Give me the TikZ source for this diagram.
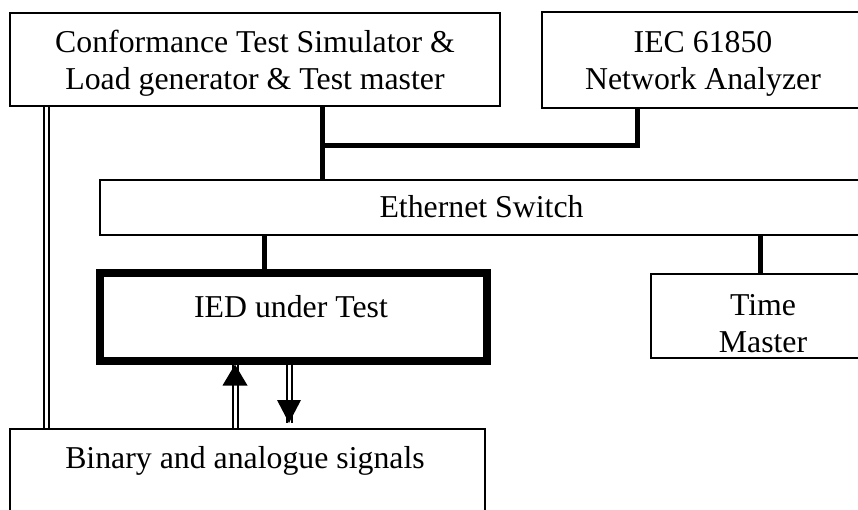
\documentclass[tikz,border=0pt]{standalone}
\usepackage{fontspec}
\setmainfont{Liberation Serif}
\begin{document}
\begin{tikzpicture}[x=1pt,y=-1pt,
  box/.style={draw, line width=2pt, inner sep=0pt},
  lbl/.style={anchor=base, inner sep=0pt, font=\fontsize{31.8}{37}\selectfont},
  bus/.style={line width=5pt},
  dbl/.style={double, line width=2pt, double distance=3pt}]
\useasboundingbox (0,0) rectangle (858,510);
\clip (0,0) rectangle (858,510);
% boxes
\node[box, minimum width=490pt, minimum height=93pt] (conf) at (255,59.5) {};
\node[box, minimum width=324pt, minimum height=96pt] (iec) at (704,60) {};
\node[box, minimum width=860pt, minimum height=55pt] (eth) at (530,207.5) {};
\node[box, line width=8pt, minimum width=387.5pt, minimum height=87.5pt] (ied) at (293.25,316.75) {};
\node[box, minimum width=226pt, minimum height=84pt] (time) at (764,316) {};
\node[box, minimum width=475pt, minimum height=131pt] (bin) at (247.5,494.5) {};
% texts
\node[lbl] (conf1) at (255,53) {Conformance Test Simulator \&};
\node[lbl] (conf2) at (255,90) {Load generator \& Test master};
\node[lbl] (iec1) at (703,53) {IEC 61850};
\node[lbl] (iec2) at (703,90) {Network Analyzer};
\node[lbl] (eth1) at (481.5,218) {Ethernet Switch};
\node[lbl] (ied1) at (291,317) {IED under Test};
\node[lbl] (time1) at (763,315) {Time};
\node[lbl] (time2) at (763,352) {Master};
\node[lbl] (bin1) at (245,468) {Binary and analogue signals};
% connector x positions
\coordinate (j) at (322,146);
\coordinate (iecx) at (637,0);
\coordinate (iedx) at (264,0);
\coordinate (timex) at (760,0);
\coordinate (dx) at (46,0);
\coordinate (ux) at (235,0);
\coordinate (vx) at (289,0);
% buses
\draw[bus] (conf.south -| j) -- (eth.north -| j);
\draw[bus] (iec.south -| iecx) |- (j);
\draw[bus] (eth.south -| iedx) -- (ied.north -| iedx);
\draw[bus] (eth.south -| timex) -- (time.north -| timex);
% double line
\draw[dbl] (conf.south -| dx) -- (bin.north -| dx);
% up arrow
\draw[dbl] (bin.north -| ux) -- (ied.south -| ux);
\fill (ied.south -| ux) -- ++(-12.5,21) -- ++(25,0) -- cycle;
% down arrow
\draw[dbl, shorten >=5pt] (ied.south -| vx) -- (bin.north -| vx);
\fill ([yshift=5pt]bin.north -| vx) -- ++(-12,-23) -- ++(24,0) -- cycle;
\end{tikzpicture}
\end{document}
